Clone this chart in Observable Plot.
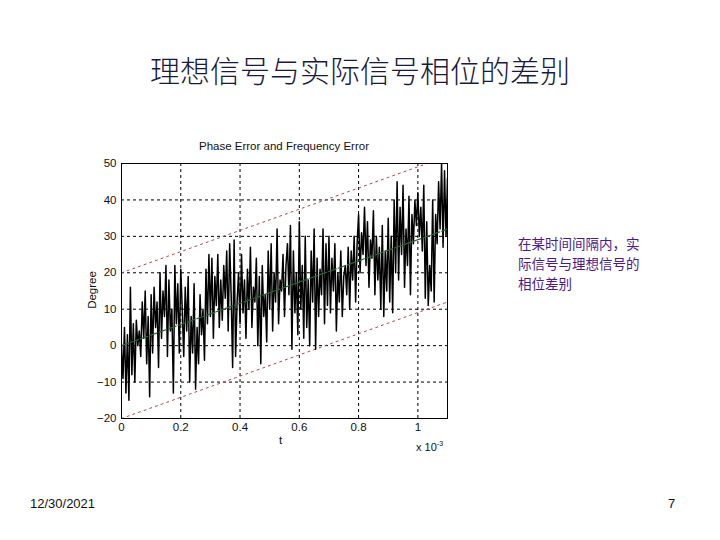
<!DOCTYPE html>
<html>
<head>
<meta charset="utf-8">
<script src="https://cdn.jsdelivr.net/npm/d3@7"></script>
<script src="https://cdn.jsdelivr.net/npm/@observablehq/plot@0.6"></script>
<style>
  html, body { margin: 0; padding: 0; background: #fff; }
  #slide { position: relative; width: 720px; height: 540px; overflow: hidden; background: #fff; }
  .abs { position: absolute; white-space: nowrap; }
  #title { left: 0; width: 720px; top: 47px; text-align: center; font-family: "Noto Sans CJK SC", sans-serif; font-size: 30px; font-weight: 300; color: #1a1a3a; }
  #ptitle { left: 121px; width: 326px; top: 140px; text-align: center; font-family: "Liberation Sans", Arial, sans-serif; font-size: 11.5px; color: #111; }
  #ylab { left: 62px; top: 284px; width: 60px; text-align: center; transform: rotate(-90deg); font-family: "Liberation Sans", Arial, sans-serif; font-size: 11.5px; color: #111; }
  #xlab { left: 279px; top: 434px; font-family: "Liberation Sans", Arial, sans-serif; font-size: 11.5px; color: #111; }
  #xexp { left: 416px; top: 440px; font-family: "Liberation Sans", Arial, sans-serif; font-size: 11px; color: #111; }
  #xexp sup { font-size: 7px; vertical-align: 5px; }
  #note { left: 518px; top: 233px; font-family: "Noto Sans CJK SC", sans-serif; font-size: 13.5px; line-height: 20px; color: #4a1a8a; }
  #date { left: 30px; top: 496px; font-family: "Liberation Sans", Arial, sans-serif; font-size: 13px; color: #111; }
  #page { left: 668px; top: 496px; font-family: "Liberation Sans", Arial, sans-serif; font-size: 13px; color: #111; }
  #chart { position: absolute; left: 70px; top: 130px; }
</style>
</head>
<body>
<div id="slide">
  <div id="title" class="abs">理想信号与实际信号相位的差别</div>
  <div id="ptitle" class="abs">Phase Error and Frequency Error</div>
  <div id="ylab" class="abs">Degree</div>
  <div id="xlab" class="abs">t</div>
  <div id="xexp" class="abs">x 10<sup>-3</sup></div>
  <div id="note" class="abs">在某时间间隔内，实<br>际信号与理想信号的<br>相位差别</div>
  <div id="date" class="abs">12/30/2021</div>
  <div id="page" class="abs">7</div>
  <div id="chart"></div>
</div>
<script>
// Phase error samples (degrees), one every 0.005 (x 10^-3) of t
const phaseError = [
  0, -9, 5, -13, 3, -15, 16, -8, 6, -10, 7, 0, 4, -3, 12, 2, 15, -5, 8, -14,
  14, -2, 16, 5, 12, -6, 20, 2, 15, 8, 22, -3, 18, 4, 10, -13, 22, 6, 17, -2,
  21, 10, -3, 16, 4, 19, -10, 8, -2, 17, -12, 5, -5, 14, 3, 10, -4, 21, 6, 25,
  8, 24, 2, 19, 11, 25, 5, 18, 7, 22, 13, 26, 4, 28, 14, -6, 29, -3, 12, 20,
  6, 25, 9, 18, 2, 21, 10, 27, 5, 16, 12, 24, 0, 19, -5, 22, 8, 14, 1, 26,
  10, 28, 4, 20, 12, 32, 6, 18, 15, 25, 8, 22, 28, 14, 33, -1, 26, 9, 20, 3,
  34, 10, 22, 2, 30, 5, 18, 0, 26, 12, 32, -1, 24, 8, 21, 14, 32, 6, 28, 11,
  30, 9, 24, 15, 28, 4, 20, 12, 26, 8, 19, 22, 14, 27, 10, 26, 18, 30, 12, 28,
  36, 20, 31, 25, 38, 22, 34, 16, 29, 24, 37, 14, 30, 18, 27, 10, 33, 8, 26, 15,
  35, 12, 30, 9, 40, 20, 45, 18, 38, 25, 44, 16, 32, 22, 41, 14, 36, 28, 40, 33,
  42, 30, 38, 26, 44, 13, 34, 11, 22, 15, 40, 12, 36, 28, 45, 32, 50, 27, 48, 30, 46
];
const sampleStep = 0.005;
// Trend line and error band end points
const trendT = [0, 1.1];
const trendCenter = [0, 32];
const trendUpper = [20, 52];
const trendLower = [-20, 12];
// Axis ticks
const xTicks = [0, 0.2, 0.4, 0.6, 0.8, 1];
const yTicks = [-20, -10, 0, 10, 20, 30, 40, 50];

const series = phaseError.map((v, i) => ({t: i * sampleStep, v}));
const trend = trendT.map((t, i) => ({t, c: trendCenter[i], u: trendUpper[i], l: trendLower[i]}));

const chart = Plot.plot({
  width: 400,
  height: 330,
  marginLeft: 51,
  marginRight: 23,
  marginTop: 33,
  marginBottom: 42,
  x: {domain: [0, 1.1], ticks: xTicks, tickFormat: d => String(d)},
  y: {domain: [-20, 50], ticks: yTicks},
  style: {fontFamily: "Liberation Sans, Arial, sans-serif", fontSize: "11.5px", color: "#111", background: "transparent"},
  marks: [
    Plot.gridX(xTicks.filter(d => d > 0 && d < 1.1), {stroke: "#000", strokeOpacity: 1, strokeDasharray: "3,3", strokeWidth: 1}),
    Plot.gridY(yTicks.filter(d => d > -20 && d < 50), {stroke: "#000", strokeOpacity: 1, strokeDasharray: "3,3", strokeWidth: 1}),
    Plot.line(trend, {x: "t", y: "u", stroke: "#a84848", strokeWidth: 1, strokeDasharray: "2,4", clip: true}),
    Plot.line(trend, {x: "t", y: "l", stroke: "#a84848", strokeWidth: 1, strokeDasharray: "2,4", clip: true}),
    Plot.line(series, {x: "t", y: "v", stroke: "#000", strokeWidth: 1.5, clip: true}),
    Plot.line(trend, {x: "t", y: "c", stroke: "#2a6234", strokeWidth: 1.2, strokeDasharray: "8,2", clip: true}),
    Plot.frame({stroke: "#000", strokeWidth: 1}),
    Plot.axisX({ticks: xTicks, tickFormat: d => String(d), tickSize: 0, tickPadding: 4, label: null}),
    Plot.axisY({ticks: yTicks, tickSize: 0, tickPadding: 5, label: null})
  ]
});
document.getElementById("chart").appendChild(chart);
</script>
</body>
</html>
